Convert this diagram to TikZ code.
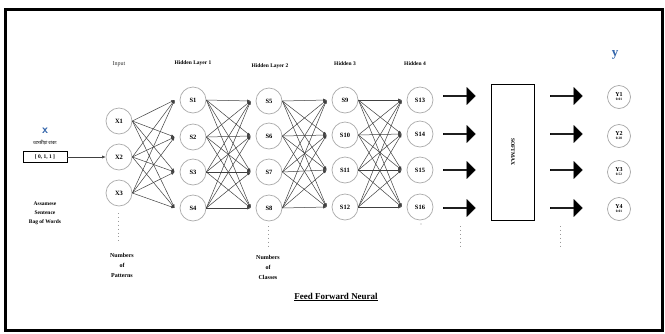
\documentclass[tikz,border=0pt]{standalone}
\usepackage{fontspec}
\setmainfont{Liberation Serif}
\newfontfamily\bnfont[Script=Bengali]{Hind Siliguri}
\usetikzlibrary{arrows.meta,shapes.arrows,calc}
\definecolor{ttblue}{RGB}{50,100,170}
\tikzset{
  neuron/.style={circle,draw=gray!65,line width=0.7pt,minimum size=26pt,inner sep=0pt,font=\fontsize{6.5}{7}\selectfont\bfseries},
  yneuron/.style={circle,draw=gray!70,line width=0.7pt,minimum size=23pt,inner sep=0pt,font=\fontsize{6}{5}\selectfont\bfseries,align=center},
  layerlbl/.style={font=\fontsize{5.5}{6}\selectfont\bfseries},
  note/.style={font=\fontsize{6}{10}\selectfont\bfseries,align=center},
  conn/.style={draw=black!75,line width=0.5pt,-{Latex[length=3.5pt,width=3pt]}},
  blockarrow/.style={single arrow,fill=black,draw=black,minimum height=32pt,minimum width=17pt,single arrow head extend=2.5pt,inner sep=0pt,single arrow tip angle=90},
  dotline/.style={draw=gray!80,line width=0.9pt,dash pattern=on 0.9pt off 3pt},
}
\begin{document}
\begin{tikzpicture}[x=1pt,y=-1pt]
\useasboundingbox (0,0) rectangle (665,333);
\fill[white] (0,0) rectangle (665,333);
\draw[line width=3pt] (5,9) rectangle (662,330);

% input side
\node[text=ttblue,font=\fontsize{12}{12}\selectfont\bfseries\sffamily] (xl) at (45,131) {x};
\node[font=\fontsize{4.5}{5}\selectfont\bnfont] (asm) at (45,143) {অসমীয়া বাক্য};
\node[draw,line width=0.7pt,minimum width=44pt,minimum height=11pt,inner sep=0pt,font=\fontsize{5.5}{6}\selectfont\bfseries] (vec) at (45,157) {[ 0, 1, 1 ]};
\node[note,font=\fontsize{5.5}{9}\selectfont\bfseries] (bow) at (45,213) {Assamese\\Sentence\\Bag of Words};

% layer labels
\node[font=\fontsize{6}{6}\selectfont,text=black!80] (Lin) at (119,64) {Input};
\node[layerlbl] (L1) at (193,63) {Hidden Layer 1};
\node[layerlbl] (L2) at (270,66) {Hidden Layer 2};
\node[layerlbl] (L3) at (345,64) {Hidden 3};
\node[layerlbl] (L4) at (415,64) {Hidden 4};

% input nodes
\node[neuron] (X1) at (119,121) {X1};
\node[neuron] (X2) at (119,157) {X2};
\node[neuron] (X3) at (119,193) {X3};

% hidden layers
\foreach \n/\y in {1/100,2/137,3/172,4/208} {
  \node[neuron] (S\n) at (193,\y) {S\n};
}
\foreach \n/\y in {5/101,6/136,7/172,8/208} {
  \node[neuron] (S\n) at (269,\y) {S\n};
}
\foreach \n/\y in {9/100,10/135,11/170,12/207} {
  \node[neuron] (S\n) at (345,\y) {S\n};
}
\foreach \n/\y in {13/100,14/134,15/170,16/207} {
  \node[neuron] (S\n) at (420,\y) {S\n};
}

% entry coordinates
\foreach \n in {1,...,16} {
  \coordinate (I\n) at ($(S\n.west)+(-5,0)$);
}

\draw[conn] (vec.east) -- (X2.west);

\foreach \s in {1,2,3} \foreach \t in {1,2,3,4} { \draw[conn] (X\s.east) -- (I\t); }
\foreach \s in {1,2,3,4} \foreach \t in {5,6,7,8} { \draw[conn] (S\s.east) -- (I\t); }
\foreach \s in {5,6,7,8} \foreach \t in {9,10,11,12} { \draw[conn] (S\s.east) -- (I\t); }
\foreach \s in {9,10,11,12} \foreach \t in {13,14,15,16} { \draw[conn] (S\s.east) -- (I\t); }

% dots and notes
\coordinate (d1a) at (118,213); \coordinate (d1b) at (118,242);
\draw[dotline] (d1a) -- (d1b);
\node[note] (pat) at (122,265) {Numbers\\of\\Patterns};
\coordinate (d2a) at (268,226); \coordinate (d2b) at (268,248);
\draw[dotline] (d2a) -- (d2b);
\node[note] (cls) at (268,267) {Numbers\\of\\Classes};
\node[circle,fill=gray!80,inner sep=0.5pt] (sd) at (421,224) {};

% softmax
\node[draw,line width=1pt,minimum width=43pt,minimum height=136pt,inner sep=0pt] (soft) at (513,152) {};
\node[rotate=-90,font=\fontsize{5.5}{6}\selectfont\bfseries] (softlbl) at (soft.center) {SOFTMAX};

\foreach \y [count=\i] in {96,134,170,208} {
  \node[blockarrow] (A\i) at (459,\y) {};
  \node[blockarrow] (B\i) at (566,\y) {};
}
\coordinate (d3a) at (460,226); \coordinate (d3b) at (460,248);
\draw[dotline] (d3a) -- (d3b);
\coordinate (d4a) at (560,226); \coordinate (d4b) at (560,248);
\draw[dotline] (d4a) -- (d4b);

% outputs
\node[text=ttblue,font=\fontsize{13}{13}\selectfont\bfseries] (yl) at (615,55) {y};
\node[yneuron] (Y1) at (619,97) {Y1\\[-1pt]{\fontsize{3.5}{4}\selectfont 0.01}};
\node[yneuron] (Y2) at (619,136) {Y2\\[-1pt]{\fontsize{3.5}{4}\selectfont 0.20}};
\node[yneuron] (Y3) at (619,172) {Y3\\[-1pt]{\fontsize{3.5}{4}\selectfont 0.52}};
\node[yneuron] (Y4) at (619,209) {Y4\\[-1pt]{\fontsize{3.5}{4}\selectfont 0.01}};

\node[font=\fontsize{9}{10}\selectfont\bfseries] (title) at (336,297) {\underline{Feed Forward Neural}};
\end{tikzpicture}
\end{document}
